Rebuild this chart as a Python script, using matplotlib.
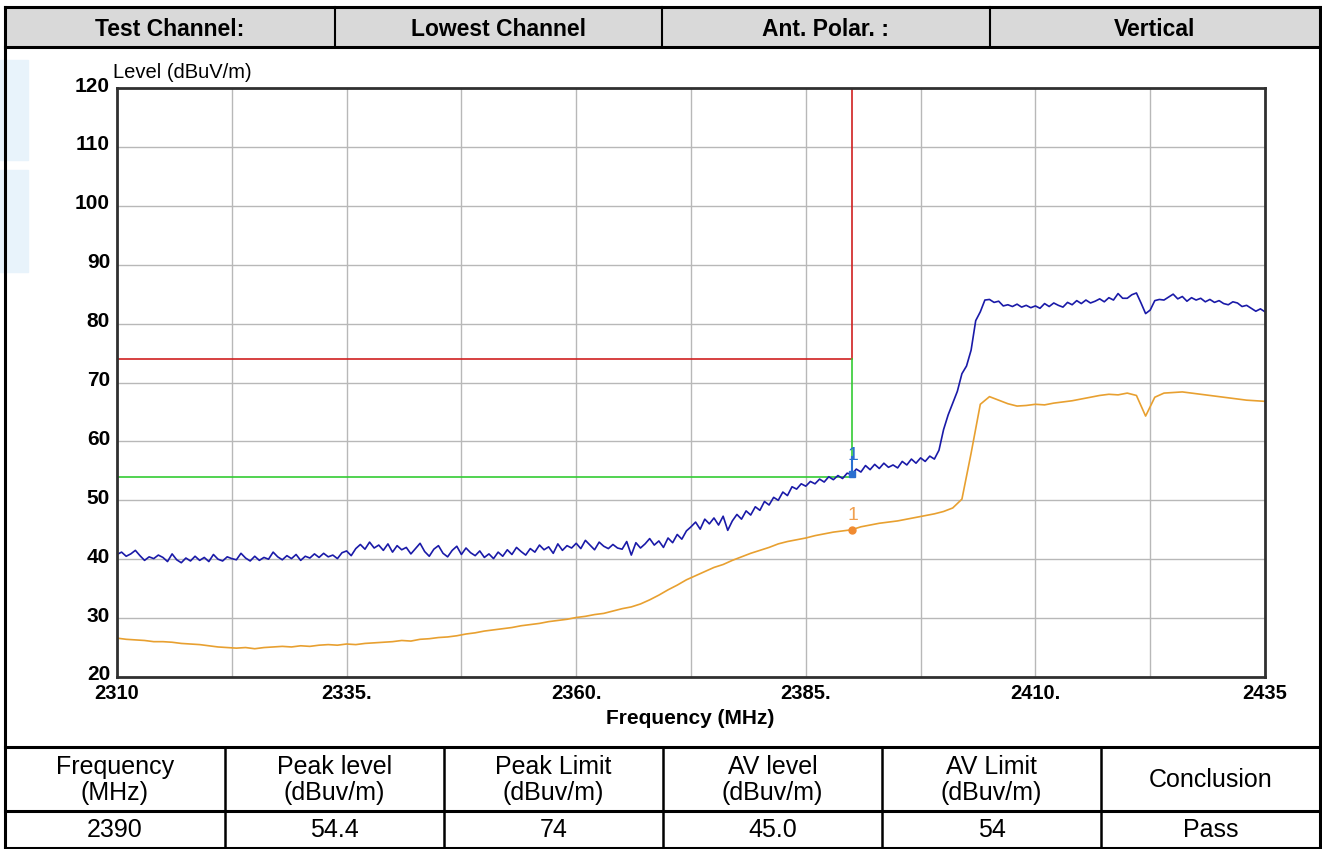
import numpy as np
import matplotlib
matplotlib.use('Agg')
import matplotlib.pyplot as plt
from matplotlib.transforms import ScaledTranslation

plt.rcParams['font.family'] = ['Liberation Sans', 'DejaVu Sans']

# header / result table text
header_cells = ['Test Channel:', 'Lowest Channel', 'Ant. Polar. :', 'Vertical']
table_head = ['Frequency\n(MHz)', 'Peak level\n(dBuv/m)', 'Peak Limit\n(dBuv/m)',
              'AV level\n(dBuv/m)', 'AV Limit\n(dBuv/m)', 'Conclusion']
table_vals = ['2390', '54.4', '74', '45.0', '54', 'Pass']

# limits and marker
peak_limit = 74
av_limit = 54
marker_freq = 2390
marker_peak = 54.4
marker_av = 45.0

f_start, f_stop = 2310, 2435
x_tick_pos = [2310, 2335, 2360, 2385, 2410, 2435]
x_tick_lab = ['2310', '2335.', '2360.', '2385.', '2410.', '2435']
y_ticks = [20, 30, 40, 50, 60, 70, 80, 90, 100, 110, 120]

# peak trace, 0.5 MHz steps from 2310 to 2435
peak = [
    40.8, 41.2, 40.5, 40.9, 41.5, 40.6, 39.8, 40.4, 40.1, 40.7,
    40.3, 39.6, 40.9, 39.9, 39.4, 40.2, 39.7, 40.5, 39.8, 40.3,
    39.6, 40.8, 40.0, 39.7, 40.4, 40.1, 39.9, 41.0, 40.2, 39.7,
    40.5, 39.8, 40.3, 40.0, 41.2, 40.4, 39.9, 40.6, 40.1, 40.8,
    39.8, 40.5, 40.2, 40.9, 40.3, 41.0, 40.4, 40.7, 40.1, 41.1,
    41.4, 40.6, 41.8, 42.5, 41.7, 42.9, 41.9, 42.4, 41.5, 42.6,
    41.2, 42.3, 41.6, 42.0, 40.9, 41.8, 42.7, 41.3, 40.5, 41.7,
    42.3, 41.0, 40.4, 41.5, 42.2, 40.8, 41.9, 41.1, 40.6, 41.4,
    40.3, 40.9, 40.1, 41.2, 40.5, 41.6, 40.8, 42.0, 41.3, 40.7,
    41.8, 41.2, 42.4, 41.6, 42.1, 41.0, 42.6, 41.5, 42.3, 41.9,
    42.7, 41.8, 43.2, 42.4, 41.6, 42.9, 42.2, 41.8, 42.5, 41.9,
    41.7, 43.0, 40.7, 42.8, 41.9, 42.6, 43.5, 42.4, 43.1, 42.0,
    43.6, 42.8, 44.2, 43.4, 44.8, 45.5, 46.3, 45.1, 46.8, 46.0,
    47.0, 45.8, 47.3, 44.9, 46.5, 47.6, 46.8, 48.2, 47.5, 48.9,
    48.3, 49.8, 49.2, 50.5, 50.0, 51.4, 50.8, 52.3, 51.9, 52.8,
    52.4, 53.2, 52.8, 53.6, 53.1, 54.0, 53.5, 54.2, 53.7, 54.6,
    54.4, 55.3, 54.8, 55.9, 55.2, 56.1, 55.4, 56.3, 55.6, 56.0,
    55.5, 56.6, 56.0, 57.0, 56.3, 57.2, 56.6, 57.5, 57.0, 58.5,
    62.0, 64.5, 66.5, 68.5, 71.5, 72.8, 75.5, 80.5, 82.0, 84.0,
    84.1, 83.6, 83.8, 83.0, 83.2, 82.9, 83.3, 82.8, 83.1, 82.7,
    83.0, 82.6, 83.4, 82.9, 83.5, 83.1, 82.8, 83.6, 83.2, 83.9,
    83.4, 84.0, 83.5, 83.8, 84.2, 83.7, 84.4, 84.0, 85.1, 84.3,
    84.3, 84.9, 85.2, 83.5, 81.7, 82.3, 83.9, 84.1, 84.0, 84.5,
    85.0, 84.2, 84.6, 83.8, 84.4, 84.0, 84.3, 83.7, 84.1, 83.6,
    83.9, 83.4, 83.2, 83.7, 83.5, 82.9, 83.1, 82.6, 82.1, 82.5,
    82.0,
]

# average trace, 1 MHz steps from 2310 to 2435
avg = [
    26.6, 26.4, 26.3, 26.2, 26.0, 26.0, 25.9, 25.7, 25.6, 25.5,
    25.3, 25.1, 25.0, 24.9, 25.0, 24.8, 25.0, 25.1, 25.2, 25.1,
    25.3, 25.2, 25.4, 25.5, 25.4, 25.6, 25.5, 25.7, 25.8, 25.9,
    26.0, 26.2, 26.1, 26.4, 26.5, 26.7, 26.8, 27.0, 27.3, 27.5,
    27.8, 28.0, 28.2, 28.4, 28.7, 28.9, 29.1, 29.4, 29.6, 29.8,
    30.1, 30.3, 30.6, 30.8, 31.2, 31.6, 31.9, 32.4, 33.1, 33.9,
    34.8, 35.6, 36.5, 37.2, 37.9, 38.6, 39.1, 39.8, 40.4, 41.0,
    41.5, 42.0, 42.6, 43.0, 43.3, 43.6, 44.0, 44.3, 44.6, 44.8,
    45.0, 45.5, 45.8, 46.1, 46.3, 46.5, 46.8, 47.1, 47.4, 47.7,
    48.1, 48.7, 50.2, 58.0, 66.3, 67.6, 67.0, 66.4, 66.0, 66.1,
    66.3, 66.2, 66.5, 66.7, 66.9, 67.2, 67.5, 67.8, 68.0, 67.9,
    68.2, 67.8, 64.3, 67.5, 68.2, 68.3, 68.4, 68.2, 68.0, 67.8,
    67.6, 67.4, 67.2, 67.0, 66.9, 66.8,
]

W, H = 1322, 849


def fx(x):
    return x / W


def fy(y):
    return 1 - y / H


fig = plt.figure(figsize=(W / 100, H / 100), dpi=100)

# faint watermark strips at the left edge
for y0, y1 in [(60, 160), (170, 272)]:
    fig.add_artist(plt.Rectangle((0, fy(y1)), fx(28), fy(y0) - fy(y1),
                                 color='#e8f3fb', zorder=0))

# outer frame and table lines
lw_tab = 2.2
for y in [7, 47, 747, 811, 848]:
    fig.add_artist(plt.Line2D([fx(5), fx(1320)], [fy(y), fy(y)], color='black', lw=lw_tab))
for x in [5, 1320]:
    fig.add_artist(plt.Line2D([fx(x), fx(x)], [fy(7), fy(848)], color='black', lw=lw_tab))

# header row
fig.add_artist(plt.Rectangle((fx(5), fy(47)), fx(1315), fy(7) - fy(47),
                             color='#d9d9d9', zorder=0))
hx = [5, 335, 662, 990, 1320]
for x in hx[1:-1]:
    fig.add_artist(plt.Line2D([fx(x), fx(x)], [fy(7), fy(47)], color='black', lw=1.5))
for i, t in enumerate(header_cells):
    fig.text(fx((hx[i] + hx[i + 1]) / 2), fy(29), t, ha='center', va='center',
             fontsize=16.5, fontweight='bold')

# bottom table
bx = [5, 225, 444, 663, 882, 1101, 1320]
for x in bx[1:-1]:
    fig.add_artist(plt.Line2D([fx(x), fx(x)], [fy(747), fy(848)], color='black', lw=1.8))
for i in range(6):
    cx = fx((bx[i] + bx[i + 1]) / 2)
    fig.text(cx, fy(780), table_head[i], ha='center', va='center', fontsize=18,
             linespacing=1.15)
    fig.text(cx, fy(830), table_vals[i], ha='center', va='center', fontsize=18)

# plot
ax = fig.add_axes([fx(117), fy(677), fx(1265) - fx(117), fy(88) - fy(677)])
ax.set_xlim(f_start, f_stop)
ax.set_ylim(20, 120)

grid_x = np.arange(f_start, f_stop + 0.1, 12.5)
ax.set_xticks(grid_x)
ax.set_xticklabels([x_tick_lab[x_tick_pos.index(g)] if g in x_tick_pos else ''
                    for g in grid_x], fontsize=14.5, fontweight='bold')
ax.set_yticks(y_ticks)
ax.set_yticklabels([str(v) for v in y_ticks], fontsize=15, fontweight='bold')
ax.tick_params(length=0)
ax.tick_params(axis='y', pad=5)
ax.tick_params(axis='x', pad=5)
up = ScaledTranslation(0, 4 / 100, fig.dpi_scale_trans)
for lab in ax.get_yticklabels():
    lab.set_transform(lab.get_transform() + up)
ax.grid(True, color='#b8b8b8', lw=1)
for s in ax.spines.values():
    s.set_color('#303030')
    s.set_linewidth(2)

freq_pk = np.linspace(f_start, f_stop, len(peak))
freq_av = np.linspace(f_start, f_stop, len(avg))

ax.plot([f_start, marker_freq], [peak_limit, peak_limit], color='#d02020', lw=1.2)
ax.plot([marker_freq, marker_freq], [peak_limit, 120], color='#d02020', lw=1.2)
ax.plot([f_start, marker_freq], [av_limit, av_limit], color='#33cc33', lw=1.2)
ax.plot([marker_freq, marker_freq], [av_limit, peak_limit], color='#33cc33', lw=1.2)

ax.plot(freq_av, avg, color='#e8a030', lw=1.2)
ax.plot(freq_pk, peak, color='#1a1aa8', lw=1.2)

ax.plot([marker_freq, marker_freq], [marker_peak, marker_peak + 3], color='#2a6fd0', lw=1.5)
ax.plot(marker_freq, marker_peak, 's', color='#2a6fd0', ms=5)
ax.text(marker_freq + 0.1, marker_peak + 1.8, '1', color='#2a6fd0', fontsize=14,
        ha='center', va='bottom')
ax.plot(marker_freq, marker_av, 'o', color='#f08a30', ms=5)
ax.text(marker_freq + 0.1, marker_av + 1.0, '1', color='#f0a050', fontsize=14,
        ha='center', va='bottom')

fig.text(fx(113), fy(72), 'Level (dBuV/m)', fontsize=14.5, ha='left', va='center')
fig.text(fx(690), fy(718), 'Frequency (MHz)', fontsize=15, fontweight='bold',
         ha='center', va='center')

fig.savefig('out.png', dpi=100)
